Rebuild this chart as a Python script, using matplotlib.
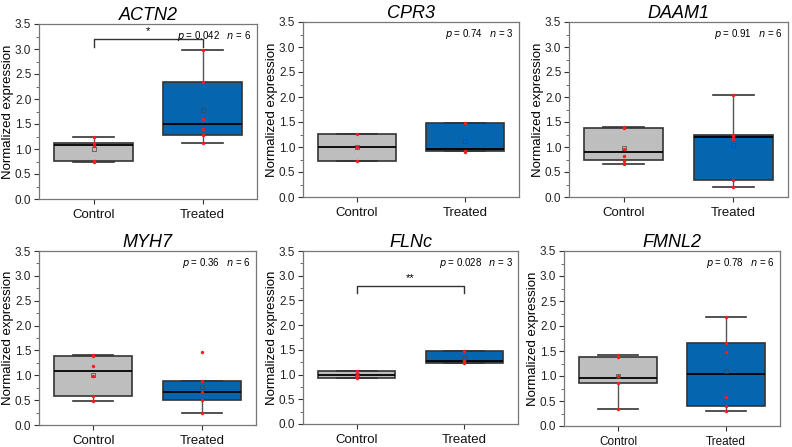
import matplotlib
matplotlib.use("Agg")
import matplotlib.pyplot as plt

plt.rcParams['font.family'] = ['Liberation Sans', 'DejaVu Sans']

genes = ["ACTN2", "CPR3", "DAAM1", "MYH7", "FLNc", "FMNL2"]
groups = ["Control", "Treated"]
p_values = ["0.042", "0.74", "0.91", "0.36", "0.028", "0.78"]
n_values = [6, 3, 6, 6, 3, 6]
sig_marks = ["*", None, None, None, "**", None]
sig_heights = [3.2, None, None, None, 2.8, None]

# Box statistics per gene: [control, treated]
q1 = [[0.77, 1.29], [0.73, 0.92], [0.75, 0.34], [0.58, 0.51], [0.93, 1.23], [0.87, 0.41]]
med = [[1.08, 1.51], [1.00, 0.97], [0.90, 1.21], [1.08, 0.66], [1.00, 1.28], [0.97, 1.04]]
q3 = [[1.13, 2.35], [1.27, 1.49], [1.39, 1.25], [1.38, 0.88], [1.07, 1.47], [1.38, 1.67]]
whislo = [[0.75, 1.13], [0.73, 0.92], [0.66, 0.21], [0.49, 0.24], [0.93, 1.23], [0.34, 0.30]]
whishi = [[1.25, 2.98], [1.27, 1.49], [1.41, 2.04], [1.40, 0.88], [1.07, 1.47], [1.42, 2.18]]
means = [[1.00, 1.79], [1.00, 1.13], [0.99, 1.04], [1.00, 0.76], [1.00, 1.33], [1.00, 1.10]]

# Individual data points
points_control = [
    [1.25, 1.13, 1.07, 0.77, 0.76, 0.75],
    [1.27, 1.00, 0.73],
    [1.41, 1.39, 0.97, 0.83, 0.73, 0.66],
    [1.40, 1.38, 1.18, 0.98, 0.58, 0.49],
    [1.07, 1.00, 0.93],
    [1.42, 1.39, 1.00, 0.87, 0.34],
]
points_treated = [
    [2.98, 2.35, 1.61, 1.41, 1.29, 1.13],
    [1.49, 0.93, 0.90],
    [2.04, 1.25, 1.23, 1.16, 0.35, 0.21],
    [1.47, 0.88, 0.66, 0.51, 0.24],
    [1.48, 1.28, 1.23],
    [2.18, 1.67, 1.48, 0.59, 0.41, 0.30],
]

box_colors = ["#BEBEBE", "#0565AE"]
axes_px = [
    (39, 24, 257, 199), (303, 22, 519, 197), (569, 22, 788, 197),
    (39, 251, 256, 425), (303, 251, 518, 424), (564, 251, 780, 426),
]
W, H = 792, 447

fig = plt.figure(figsize=(W / 100, H / 100), dpi=100)

for i, g in enumerate(genes):
    l, t, r, b = axes_px[i]
    ax = fig.add_axes([l / W, 1 - b / H, (r - l) / W, (b - t) / H])
    stats = []
    for j in range(2):
        stats.append(dict(q1=q1[i][j], med=med[i][j], q3=q3[i][j],
                          whislo=whislo[i][j], whishi=whishi[i][j],
                          mean=means[i][j], fliers=[], label=groups[j]))
    bp = ax.bxp(stats, positions=[1, 2], widths=0.72, patch_artist=True,
                showmeans=True, capwidths=0.37,
                boxprops=dict(edgecolor="#333333", linewidth=1.2),
                medianprops=dict(color="black", linewidth=1.3),
                whiskerprops=dict(color="#555555", linewidth=1.0),
                capprops=dict(color="#333333", linewidth=1.2),
                meanprops=dict(marker="s", markersize=2.2, markerfacecolor="none",
                               markeredgecolor="#444444", markeredgewidth=0.5))
    for patch, c in zip(bp["boxes"], box_colors):
        patch.set_facecolor(c)
    ax.scatter([1] * len(points_control[i]), points_control[i], s=6, color="#FF1A1A", zorder=5, linewidths=0)
    ax.scatter([2] * len(points_treated[i]), points_treated[i], s=6, color="#FF1A1A", zorder=5, linewidths=0)

    ax.set_xlim(0.5, 2.5)
    ax.set_ylim(0, 3.5)
    ax.set_yticks([0, 0.5, 1.0, 1.5, 2.0, 2.5, 3.0, 3.5])
    ax.set_yticks([0.25, 0.75, 1.25, 1.75, 2.25, 2.75, 3.25], minor=True)
    ax.set_xticks([1, 2])
    ax.set_xticklabels(groups, fontsize=9.5 if i != 5 else 8.5)
    ax.tick_params(axis="y", labelsize=8.5, direction="out", length=3.5, width=0.8, colors="#333333", labelcolor="#222222", pad=2)
    ax.tick_params(axis="y", which="minor", length=2, width=0.6, colors="#555555")
    ax.tick_params(axis="x", direction="out", length=3.5, width=0.8, colors="#333333", labelcolor="#111111")
    for s in ax.spines.values():
        s.set_color("#777777")
        s.set_linewidth(0.9)
    ax.set_ylabel("Normalized expression", fontsize=9.5)
    ax.yaxis.set_label_coords(-25 / (r - l), 0.5)
    ax.set_title(g, fontsize=13, style="italic", pad=3)
    ax.text(0.975, 0.97, f"$p$ = {p_values[i]}   $n$ = {n_values[i]}", transform=ax.transAxes,
            ha="right", va="top", fontsize=7)
    if sig_marks[i]:
        y = sig_heights[i]
        ax.plot([1, 1, 2, 2], [y - 0.15, y, y, y - 0.15], color="#333333", linewidth=1.0)
        ax.text(1.5, y + 0.05, sig_marks[i], ha="center", va="bottom", fontsize=8)

fig.savefig("out.png", dpi=100)
